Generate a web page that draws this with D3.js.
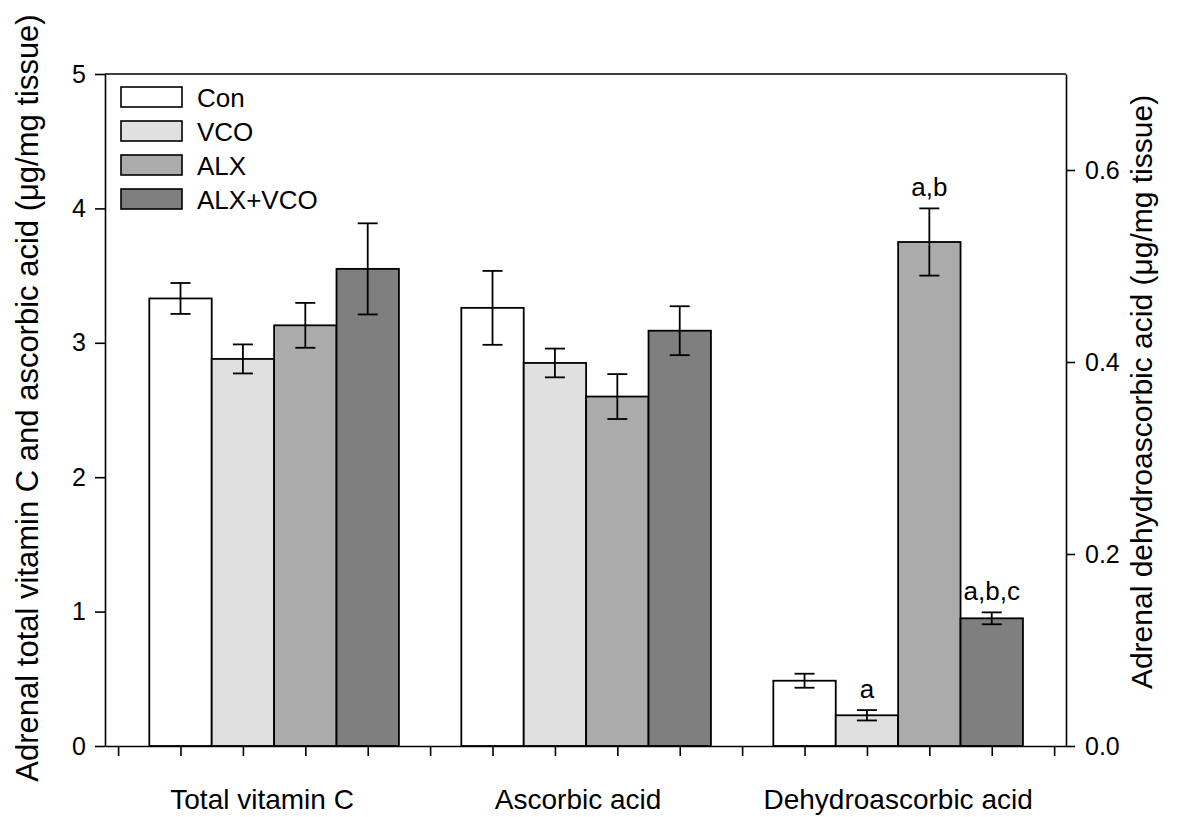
<!DOCTYPE html>
<html>
<head>
<meta charset="utf-8">
<script src="https://cdn.jsdelivr.net/npm/d3@7"></script>
<style>
  body { margin: 0; background: #fff; }
  svg { font-family: "Liberation Sans", Arial, sans-serif; }
  .axis path, .axis line { stroke: #000; stroke-width: 1.6px; }
  .axis text { font-size: 25px; fill: #000; }
</style>
</head>
<body>
<svg id="chart" width="1178" height="817"></svg>
<script>
// groups and categories
const groups = ['Con', 'VCO', 'ALX', 'ALX+VCO'];
const categories = ['Total vitamin C', 'Ascorbic acid', 'Dehydroascorbic acid'];
const colors = ['#ffffff', '#e0e0e0', '#ababab', '#7f7f7f'];

// means and SE
const totalVitC = [3.33, 2.88, 3.13, 3.55];
const totalVitCErr = [0.115, 0.108, 0.167, 0.339];
const ascorbic = [3.26, 2.85, 2.60, 3.09];
const ascorbicErr = [0.275, 0.107, 0.167, 0.182];
// dehydroascorbic acid is on the right axis
const dha = [0.068, 0.032, 0.525, 0.133];
const dhaErr = [0.0073, 0.0054, 0.035, 0.0062];
const dhaLabels = ['', 'a', 'a,b', 'a,b,c'];

const leftTicks = [0, 1, 2, 3, 4, 5];
const rightTicks = [0, 0.2, 0.4, 0.6];

const svg = d3.select('#chart');

const plotL = 105, plotR = 1066, plotT = 74, plotB = 746;

// one slot per bar, one empty slot between groups
const slotsPerGroup = groups.length + 1;
const nSlots = categories.length * slotsPerGroup + 1;
const x = d3.scaleLinear()
  .domain([-0.21, 15.19])
  .range([plotL, plotR]);
const slotW = x(1) - x(0);

const yL = d3.scaleLinear().domain([0, 5]).range([plotB, plotT]);
const yR = d3.scaleLinear().domain([0, 0.7]).range([plotB, plotT]);

const series = [
  { vals: totalVitC, errs: totalVitCErr, y: yL, labels: null },
  { vals: ascorbic, errs: ascorbicErr, y: yL, labels: null },
  { vals: dha, errs: dhaErr, y: yR, labels: dhaLabels }
];

const bars = [];
series.forEach((s, ci) => {
  s.vals.forEach((v, gi) => {
    bars.push({
      slot: 1 + ci * slotsPerGroup + gi,
      value: v,
      err: s.errs[gi],
      y: s.y,
      color: colors[gi],
      label: s.labels ? s.labels[gi] : ''
    });
  });
});

// bars
svg.append('g').selectAll('rect')
  .data(bars)
  .enter()
  .append('rect')
  .attr('x', d => x(d.slot) - slotW / 2)
  .attr('y', d => d.y(d.value))
  .attr('width', slotW)
  .attr('height', d => plotB - d.y(d.value))
  .attr('fill', d => d.color)
  .attr('stroke', '#000')
  .attr('stroke-width', 1.8);

// error bars
const eb = svg.append('g')
  .attr('stroke', '#000')
  .attr('stroke-width', 1.8);
bars.forEach(d => {
  const cx = x(d.slot);
  const y1 = d.y(d.value + d.err), y2 = d.y(d.value - d.err);
  eb.append('line').attr('x1', cx).attr('x2', cx).attr('y1', y1).attr('y2', y2);
  eb.append('line').attr('x1', cx - 10).attr('x2', cx + 10).attr('y1', y1).attr('y2', y1);
  eb.append('line').attr('x1', cx - 10).attr('x2', cx + 10).attr('y1', y2).attr('y2', y2);
});

// significance letters
svg.append('g').selectAll('text')
  .data(bars.filter(d => d.label))
  .enter()
  .append('text')
  .attr('x', d => x(d.slot))
  .attr('y', d => d.y(d.value + d.err) - 12)
  .attr('text-anchor', 'middle')
  .attr('font-size', 26)
  .text(d => d.label);

// frame
svg.append('line')
  .attr('x1', plotL).attr('x2', plotR)
  .attr('y1', plotT).attr('y2', plotT)
  .attr('stroke', '#000').attr('stroke-width', 1.6);

// axes
svg.append('g')
  .attr('class', 'axis')
  .attr('transform', `translate(0,${plotB})`)
  .call(d3.axisBottom(x)
    .tickValues(d3.range(nSlots))
    .tickFormat('')
    .tickSizeInner(10)
    .tickSizeOuter(0));

svg.append('g')
  .attr('class', 'axis')
  .attr('transform', `translate(${plotL},0)`)
  .call(d3.axisLeft(yL)
    .tickValues(leftTicks)
    .tickFormat(d3.format('d'))
    .tickSizeInner(10)
    .tickSizeOuter(0)
    .tickPadding(9));

svg.append('g')
  .attr('class', 'axis')
  .attr('transform', `translate(${plotR},0)`)
  .call(d3.axisRight(yR)
    .tickValues(rightTicks)
    .tickFormat(d3.format('.1f'))
    .tickSizeInner(9)
    .tickSizeOuter(0)
    .tickPadding(10));

svg.selectAll('.axis .domain').attr('stroke-width', 1.8);

// category labels
svg.append('g').selectAll('text')
  .data(categories)
  .enter()
  .append('text')
  .attr('x', (d, i) => x(i * slotsPerGroup + 1 + (groups.length - 1) / 2) - [12, 8, 0][i])
  .attr('y', 809)
  .attr('text-anchor', 'middle')
  .attr('font-size', 28)
  .text(d => d);

// axis titles
svg.append('text')
  .attr('transform', 'translate(38,398) rotate(-90)')
  .attr('text-anchor', 'middle')
  .attr('font-size', 31)
  .text('Adrenal total vitamin C and ascorbic acid (\u03bcg/mg tissue)');

svg.append('text')
  .attr('transform', 'translate(1152,392) rotate(-90)')
  .attr('text-anchor', 'middle')
  .attr('font-size', 30)
  .text('Adrenal dehydroascorbic acid (\u03bcg/mg tissue)');

// legend
const legend = svg.append('g').attr('transform', 'translate(121,87)');
const rows = legend.selectAll('g')
  .data(groups)
  .enter()
  .append('g')
  .attr('transform', (d, i) => `translate(0,${i * 34})`);
rows.append('rect')
  .attr('width', 61)
  .attr('height', 20)
  .attr('fill', (d, i) => colors[i])
  .attr('stroke', '#000')
  .attr('stroke-width', 1.6);
rows.append('text')
  .attr('x', 76)
  .attr('y', 20)
  .attr('font-size', 26)
  .text(d => d);
</script>
</body>
</html>
